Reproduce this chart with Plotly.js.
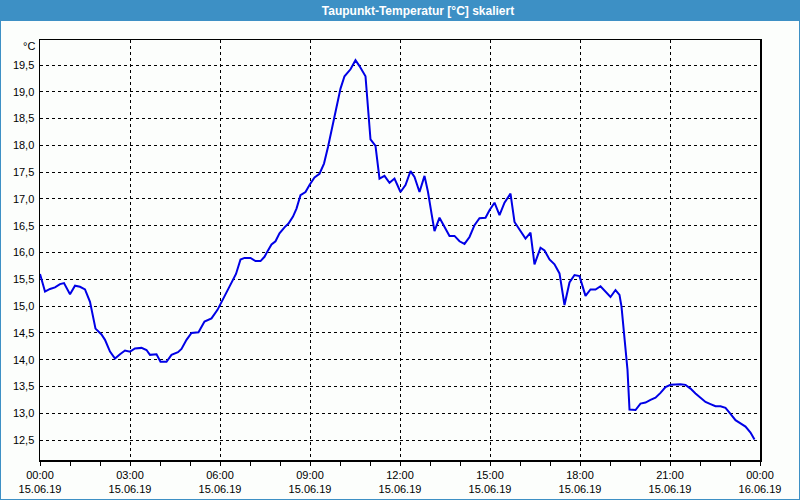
<!DOCTYPE html>
<html>
<head>
<meta charset="utf-8">
<script src="https://cdn.plot.ly/plotly-3.0.1.min.js"></script>
<style>
html,body{margin:0;padding:0;background:#fcfefc;}
#chart{width:800px;height:500px;}
</style>
</head>
<body>
<div id="chart"></div>
<script>
// Time of day (15.06.2019) for each reading
var times = ["00:00","00:10","00:20","00:30","00:40","00:48","01:00","01:10","01:20","01:30",
"01:40","01:46","01:51","02:03","02:10","02:20","02:30","02:40","02:50","03:00",
"03:10","03:23","03:33","03:40","03:53","04:01","04:13","04:23","04:36","04:43",
"04:53","05:03","05:17","05:29","05:43","05:55","06:05","06:14","06:24","06:32",
"06:41","06:49","07:01","07:11","07:21","07:29","07:36","07:43","07:51","07:59",
"08:09","08:17","08:26","08:33","08:41","08:51","08:59","09:09","09:19","09:28",
"09:36","09:43","09:51","10:01","10:09","10:21","10:31","10:39","10:51","10:57",
"11:01","11:11","11:19","11:29","11:39","11:49","12:01","12:11","12:21","12:29",
"12:39","12:49","12:56","13:03","13:09","13:19","13:29","13:39","13:49","13:59",
"14:09","14:19","14:29","14:39","14:51","14:59","15:09","15:19","15:29","15:41",
"15:49","15:59","16:11","16:21","16:29","16:41","16:49","16:59","17:09","17:19",
"17:29","17:39","17:49","17:59","18:11","18:21","18:31","18:41","18:51","19:01",
"19:11","19:19","19:23","19:29","19:35","19:39","19:51","20:01","20:11","20:21",
"20:31","20:41","20:51","21:01","21:11","21:21","21:31","21:41","21:51","22:01",
"22:11","22:21","22:31","22:41","22:51","23:01","23:11","23:21","23:31","23:41",
"23:49"];
// Dew point temperature [°C]
var dewpoint = [15.60,15.27,15.32,15.35,15.41,15.43,15.22,15.38,15.36,15.31,
15.08,14.80,14.58,14.47,14.37,14.15,14.02,14.10,14.17,14.15,
14.21,14.22,14.18,14.09,14.10,13.96,13.96,14.09,14.14,14.20,
14.37,14.50,14.51,14.71,14.77,14.93,15.11,15.25,15.45,15.60,
15.87,15.90,15.90,15.84,15.84,15.92,16.04,16.15,16.21,16.36,
16.47,16.54,16.67,16.82,17.07,17.13,17.26,17.40,17.47,17.66,
17.97,18.28,18.66,19.06,19.29,19.42,19.59,19.48,19.29,18.53,
18.11,17.99,17.38,17.43,17.30,17.38,17.13,17.26,17.52,17.41,
17.13,17.43,17.13,16.73,16.40,16.65,16.48,16.31,16.31,16.21,
16.16,16.29,16.51,16.64,16.65,16.79,16.93,16.70,16.93,17.10,
16.57,16.42,16.26,16.37,15.78,16.09,16.04,15.87,15.78,15.61,
15.02,15.44,15.58,15.56,15.19,15.31,15.31,15.37,15.27,15.17,
15.30,15.21,14.99,14.43,13.81,13.07,13.06,13.18,13.20,13.25,
13.29,13.38,13.49,13.53,13.54,13.54,13.53,13.46,13.37,13.29,
13.21,13.17,13.13,13.13,13.10,12.99,12.87,12.81,12.75,12.64,
12.51];

var tickTimes = ["2019-06-15 00:00","2019-06-15 03:00","2019-06-15 06:00","2019-06-15 09:00",
"2019-06-15 12:00","2019-06-15 15:00","2019-06-15 18:00","2019-06-15 21:00","2019-06-16 00:00"];
var tickHours = ["00:00","03:00","06:00","09:00","12:00","15:00","18:00","21:00","00:00"];
var tickDates = ["15.06.19","15.06.19","15.06.19","15.06.19","15.06.19","15.06.19","15.06.19","15.06.19","16.06.19"];
var yTicks = [12.5,13.0,13.5,14.0,14.5,15.0,15.5,16.0,16.5,17.0,17.5,18.0,18.5,19.0,19.5];

var x = times.map(function(t){ return "2019-06-15 " + t; });
var tickText = tickHours.map(function(h,i){ return h + "<br>" + tickDates[i]; });

var font = {family: "Liberation Sans, Arial, sans-serif", size: 11, color: "#000"};
var frameBlue = "#3d90c5";

var trace = {
  x: x, y: dewpoint, type: "scatter", mode: "lines",
  line: {color: "#0000e6", width: 2},
  hoverinfo: "none"
};

var W = 800, H = 500, L = 40, R = 40, T = 40, B = 40;
var pw = W - L - R, ph = H - T - B;
function px(p){ return (p - L) / pw; }
function py(p){ return 1 - (p - T) / ph; }

var layout = {
  width: W, height: H,
  margin: {l: L, r: R, t: T, b: B, pad: 0},
  paper_bgcolor: "#fcfefc",
  plot_bgcolor: "#fcfefc",
  separators: ",.",
  showlegend: false,
  font: font,
  title: {
    text: "Taupunkt-Temperatur [°C] skaliert",
    font: {family: "Liberation Sans, Arial, sans-serif", size: 12, color: "#ffffff", weight: "bold"},
    x: 420 / W, xanchor: "center", xref: "paper",
    y: 1 - 10.5 / H, yanchor: "middle", yref: "container"
  },
  xaxis: {
    type: "date",
    range: ["2019-06-15 00:00", "2019-06-16 00:00"],
    tickmode: "array", tickvals: tickTimes, ticktext: tickText,
    showgrid: true, gridcolor: "#000", gridwidth: 1, griddash: "3px,3px",
    showline: true, linecolor: "#000", linewidth: 1.5, mirror: true,
    ticks: "outside", ticklen: 4, tickcolor: "#000", tickwidth: 1,
    minor: {dtick: 3600000, tick0: "2019-06-15 00:00", ticks: "outside", ticklen: 4, tickcolor: "#000", showgrid: false},
    tickfont: font, zeroline: false, fixedrange: true
  },
  yaxis: {
    range: [12.127, 19.967],
    tickmode: "array", tickvals: yTicks, tickformat: ".1f",
    showgrid: true, gridcolor: "#000", gridwidth: 1, griddash: "3px,3px",
    showline: true, linecolor: "#000", linewidth: 1.5, mirror: true,
    ticks: "", tickfont: font, zeroline: false, fixedrange: true,
    ticklabelstandoff: 2
  },
  shapes: [
    {type: "rect", xref: "paper", yref: "paper", x0: px(0), x1: px(800), y0: py(0), y1: py(21),
     fillcolor: frameBlue, line: {width: 0}, layer: "above"},
    {type: "rect", xref: "paper", yref: "paper", x0: px(0), x1: px(800), y0: py(0), y1: py(500),
     fillcolor: "rgba(0,0,0,0)", line: {color: frameBlue, width: 2}, layer: "above"}
  ],
  annotations: [
    {text: "°C", xref: "paper", yref: "paper", x: px(37), y: py(46), xanchor: "right", yanchor: "middle",
     showarrow: false, font: font}
  ]
};

Plotly.newPlot("chart", [trace], layout, {displayModeBar: false, staticPlot: true});
</script>
</body>
</html>
